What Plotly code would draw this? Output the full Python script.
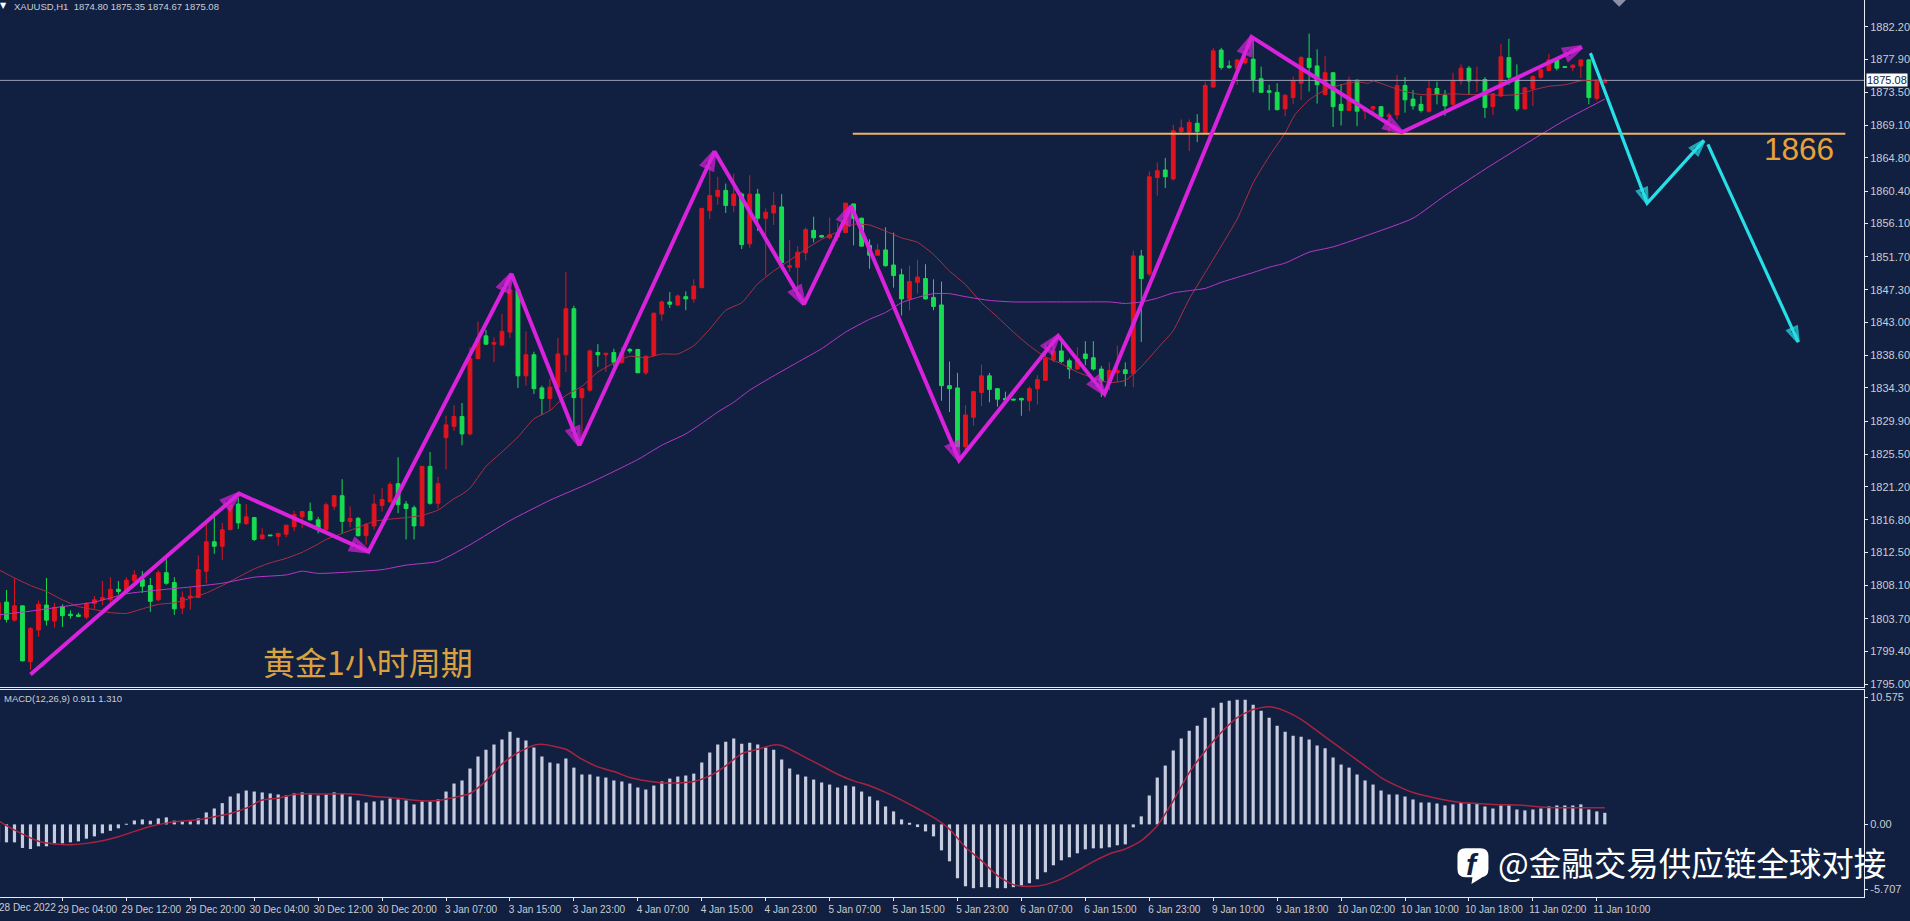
import plotly.graph_objects as go

W, H = 1910, 921
FIRST_BAR = -1
opens = [1803.6,
1805.9,1803.5,1805.4,1798.0,1802.2,1805.5,1803.4,1805.3,1804.3,1804.2,
1803.9,1805.7,1806.2,1806.2,1807.6,1807.3,1808.7,1808.9,1808.1,1806.2,
1809.8,1808.5,1805.1,1806.5,1806.5,1810.0,1813.9,1813.3,1815.5,1818.9,
1816.3,1817.1,1814.3,1814.8,1814.6,1814.9,1815.9,1817.2,1817.9,1816.8,
1815.5,1818.6,1820.0,1816.6,1817.0,1814.7,1816.0,1818.7,1819.2,1821.6,
1818.9,1818.4,1816.0,1823.9,1819.0,1827.7,1829.2,1830.5,1828.2,1838.2,
1841.2,1840.1,1840.0,1841.7,1847.3,1835.9,1838.7,1834.3,1832.9,1834.4,
1838.7,1844.8,1833.0,1834.0,1839.0,1838.7,1839.0,1837.7,1839.4,1839.4,
1836.3,1838.6,1844.1,1845.7,1845.3,1846.4,1846.1,1847.6,1857.8,1859.7,
1860.5,1858.5,1860.0,1853.4,1860.0,1856.8,1857.5,1858.3,1850.3,1850.3,
1852.2,1855.2,1854.5,1854.2,1854.3,1854.9,1858.7,1856.8,1853.2,1851.9,
1852.6,1850.6,1849.3,1846.1,1848.3,1848.8,1846.3,1845.3,1834.6,1834.3,
1826.5,1830.4,1833.7,1835.9,1834.2,1832.9,1832.8,1832.9,1832.6,1834.2,
1835.3,1838.0,1839.2,1837.9,1836.8,1838.8,1838.3,1836.8,1835.1,1836.3,
1836.7,1836.2,1851.8,1849.4,1862.2,1863.2,1862.0,1868.3,1868.2,1869.4,
1868.2,1874.2,1879.1,1877.0,1876.6,1877.4,1877.9,1875.3,1873.7,1873.5,
1871.3,1872.8,1874.7,1878.0,1877.0,1873.2,1876.1,1871.9,1871.1,1875.1,
1871.0,1871.3,1871.6,1870.3,1870.5,1874.4,1872.6,1871.9,1871.0,1874.0,
1873.1,1871.9,1875.0,1876.7,1875.0,1875.2,1871.6,1873.0,1878.1,1875.3,
1871.3,1874.0,1875.5,1876.4,1877.8,1876.9,1876.8,1877.0,1877.8,1872.7,
1874.80]
closes = [1805.8,
1803.6,1805.4,1798.1,1802.4,1805.6,1803.5,1805.2,1804.1,1804.1,1804.0,
1805.7,1806.2,1806.5,1807.6,1807.3,1808.8,1809.5,1808.0,1806.0,1809.8,
1808.4,1805.0,1806.5,1806.7,1810.2,1813.9,1813.3,1815.5,1818.8,1816.4,
1817.2,1814.2,1814.8,1814.7,1815.0,1816.1,1817.5,1817.9,1816.8,1815.7,
1818.8,1820.0,1816.6,1817.0,1814.7,1816.2,1818.9,1819.5,1821.5,1818.8,
1818.3,1816.0,1823.9,1819.0,1821.6,1829.4,1830.5,1828.2,1838.2,1840.9,
1840.1,1840.3,1841.8,1847.3,1835.9,1838.7,1834.2,1832.9,1834.4,1838.8,
1844.8,1833.0,1834.2,1839.2,1838.7,1838.9,1837.7,1839.0,1839.2,1836.3,
1838.5,1844.2,1845.7,1845.4,1846.5,1846.1,1847.8,1858.1,1859.8,1860.5,
1858.5,1860.0,1853.3,1860.0,1856.8,1857.6,1858.5,1850.9,1850.5,1852.3,
1855.3,1854.2,1854.3,1854.6,1854.7,1858.8,1856.8,1853.1,1851.9,1852.6,
1850.5,1849.2,1846.1,1848.4,1849.0,1846.1,1845.1,1834.6,1834.2,1826.5,
1830.7,1833.8,1835.9,1834.1,1832.8,1832.7,1832.7,1832.7,1834.2,1835.4,
1838.2,1839.2,1837.8,1836.8,1838.2,1838.2,1836.8,1835.2,1836.6,1836.6,
1836.2,1851.8,1848.8,1862.3,1863.1,1862.3,1868.4,1868.8,1869.5,1868.3,
1874.4,1879.0,1876.8,1876.8,1877.8,1878.0,1875.2,1873.5,1873.5,1871.2,
1873.1,1875.0,1878.1,1876.8,1874.5,1876.1,1871.6,1871.1,1875.1,1871.0,
1871.2,1871.6,1870.3,1870.5,1874.4,1872.5,1871.7,1871.1,1874.0,1873.2,
1871.7,1875.0,1876.7,1875.0,1875.1,1871.5,1873.3,1878.2,1875.5,1871.3,
1874.1,1875.6,1876.5,1877.8,1876.7,1876.8,1877.1,1877.8,1872.8,1875.1,
1875.08]
highs = [1806.0,
1807.5,1809.1,1805.4,1802.6,1806.1,1809.1,1805.8,1805.6,1804.8,1804.5,
1805.9,1806.7,1808.7,1809.2,1808.7,1809.2,1810.1,1810.0,1809.1,1810.1,
1811.6,1809.2,1807.3,1807.8,1812.1,1816.4,1817.9,1816.4,1819.2,1819.7,
1818.9,1817.2,1815.7,1814.8,1815.0,1816.1,1818.0,1818.0,1819.1,1817.2,
1819.1,1820.1,1822.2,1818.6,1817.2,1816.4,1820.2,1821.0,1821.8,1825.1,
1819.3,1818.7,1823.9,1825.8,1822.5,1830.6,1832.0,1832.3,1839.7,1843.1,
1842.0,1841.0,1844.1,1849.4,1847.3,1841.8,1839.1,1834.6,1835.5,1840.9,
1849.7,1845.2,1834.2,1839.4,1840.1,1838.9,1839.5,1839.7,1839.6,1839.4,
1838.6,1844.3,1845.9,1847.0,1846.7,1847.1,1848.7,1858.2,1863.9,1862.3,
1861.4,1862.7,1860.2,1862.5,1860.7,1858.1,1860.3,1860.0,1853.9,1853.1,
1855.6,1857.0,1854.6,1856.9,1856.2,1858.9,1858.7,1856.9,1854.0,1853.4,
1855.6,1854.9,1850.1,1850.5,1851.3,1850.7,1848.7,1848.4,1837.8,1836.3,
1832.0,1833.9,1837.4,1836.3,1834.3,1833.8,1832.9,1833.0,1834.5,1836.0,
1840.1,1840.3,1840.4,1838.2,1839.7,1840.5,1840.5,1837.2,1837.7,1839.9,
1837.7,1852.5,1852.6,1863.0,1864.2,1864.8,1869.2,1869.9,1869.9,1870.6,
1874.9,1879.4,1879.4,1877.7,1877.9,1878.6,1880.5,1876.9,1874.5,1874.7,
1873.3,1875.6,1878.3,1881.3,1879.2,1878.3,1876.1,1874.6,1875.6,1875.2,
1871.4,1871.7,1871.6,1870.8,1875.8,1875.5,1873.8,1873.0,1875.1,1874.9,
1873.8,1876.1,1877.2,1877.0,1876.9,1875.5,1873.4,1879.9,1880.6,1877.2,
1874.1,1875.7,1876.6,1878.6,1877.9,1876.9,1877.2,1877.8,1877.9,1875.2,
1875.35]
lows = [1802.9,
1803.2,1803.3,1798.1,1796.9,1801.3,1802.8,1802.5,1802.6,1803.7,1803.9,
1803.6,1805.0,1805.5,1805.8,1806.9,1807.1,1808.2,1807.1,1804.6,1806.0,
1808.2,1804.2,1804.3,1804.9,1806.5,1808.4,1812.3,1811.5,1815.5,1815.6,
1816.1,1814.0,1814.2,1814.7,1813.4,1814.5,1815.3,1815.7,1816.7,1815.0,
1815.3,1818.1,1815.0,1815.8,1814.6,1813.5,1815.5,1817.9,1819.0,1817.7,
1814.2,1814.2,1816.0,1818.8,1818.3,1823.5,1828.6,1826.7,1828.0,1838.2,
1840.0,1837.7,1839.8,1840.9,1834.3,1834.6,1833.5,1830.7,1831.3,1834.2,
1836.4,1828.0,1827.8,1833.8,1837.1,1836.4,1837.2,1837.5,1838.9,1836.3,
1836.0,1838.4,1843.2,1844.9,1845.1,1844.6,1845.6,1847.5,1856.7,1858.6,
1857.5,1857.6,1852.7,1852.9,1855.1,1849.2,1855.9,1850.0,1849.7,1846.9,
1851.2,1853.6,1854.2,1854.0,1853.8,1854.8,1853.2,1853.1,1850.1,1851.8,
1850.4,1847.6,1843.9,1844.6,1846.8,1846.0,1844.6,1832.6,1831.1,1826.5,
1826.0,1829.3,1831.9,1832.4,1831.8,1832.7,1832.7,1830.6,1831.2,1832.1,
1835.2,1837.7,1837.6,1835.5,1836.7,1837.3,1836.6,1833.1,1834.0,1835.1,
1834.5,1834.4,1840.4,1849.1,1859.8,1860.8,1861.8,1868.1,1865.7,1866.9,
1868.2,1874.1,1876.5,1876.6,1874.5,1877.2,1873.5,1873.4,1871.1,1871.1,
1870.3,1871.9,1872.5,1873.6,1872.0,1873.1,1868.9,1869.1,1871.1,1869.0,
1869.9,1870.8,1870.3,1867.9,1869.9,1870.8,1871.2,1870.8,1870.8,1871.9,
1870.4,1871.7,1874.5,1873.2,1873.5,1870.1,1870.5,1872.9,1874.5,1871.0,
1871.2,1871.7,1875.3,1876.3,1876.4,1876.8,1876.3,1875.4,1871.9,1872.4,
1874.67]
macd_hist = [-1.40,
-1.41,-1.41,-1.85,-1.93,-1.72,-1.72,-1.49,-1.49,-1.41,-1.33,
-1.12,-0.94,-0.70,-0.50,-0.31,0.05,0.31,0.39,0.29,0.47,
0.55,0.29,0.23,0.23,0.47,0.94,1.25,1.67,2.19,2.43,
2.66,2.58,2.51,2.43,2.35,2.27,2.43,2.51,2.35,2.27,
2.35,2.51,2.43,2.19,1.88,1.72,1.80,1.88,2.04,1.96,
1.88,1.57,1.80,1.80,1.96,2.58,3.21,3.45,4.39,5.33,
5.87,6.27,6.66,7.28,6.81,6.58,6.03,5.33,4.86,4.78,
5.17,4.46,3.92,3.92,3.76,3.68,3.45,3.37,3.21,2.90,
2.74,3.05,3.37,3.60,3.76,3.84,3.99,4.86,5.64,6.27,
6.50,6.74,6.34,6.42,6.27,6.03,5.87,5.09,4.39,3.92,
3.76,3.52,3.29,3.13,2.90,3.05,2.98,2.58,2.19,1.88,
1.41,1.02,0.39,0.08,-0.21,-0.55,-0.94,-2.04,-2.90,-4.23,
-4.86,-5.01,-4.93,-4.93,-5.01,-5.01,-4.93,-4.80,-4.62,-4.31,
-3.76,-3.21,-2.82,-2.58,-2.27,-1.96,-1.88,-1.88,-1.80,-1.64,
-1.57,-0.23,0.63,2.27,3.68,4.62,5.80,6.74,7.36,7.75,
8.38,9.16,9.56,9.71,9.79,9.79,9.40,8.93,8.38,7.75,
7.28,6.97,6.89,6.66,6.19,5.98,5.25,4.70,4.46,3.92,
3.45,3.13,2.66,2.35,2.35,2.19,1.96,1.72,1.72,1.64,
1.49,1.57,1.72,1.64,1.64,1.41,1.25,1.49,1.49,1.17,
1.10,1.17,1.25,1.41,1.49,1.49,1.49,1.57,1.17,1.02,
0.911]
signal_bar = [-1,0,2,4,6,8,10,12,14,16,18,20,22,24,26,28,30,32,34,36,38,40,42,44,46,48,50,52,54,56,58,60,62,64,66,67,70,72,74,76,78,80,82,84,86,88,90,92,94,96,97,100,102,104,106,108,110,112,114,116,118,120,122,124,126,128,130,132,134,136,138,140,142,144,146,148,150,152,154,156,158,160,162,164,166,168,170,172,174,176,178,180,182,184,186,188,190,192,194,196,198,200]
signal_val = [0.30,-0.10,-0.76,-1.33,-1.54,-1.59,-1.49,-1.28,-0.97,-0.55,-0.16,0.10,0.26,0.37,0.60,0.86,1.28,1.91,2.06,2.35,2.40,2.38,2.40,2.35,2.19,2.11,1.98,1.85,1.88,2.11,2.43,3.42,4.73,5.64,6.21,6.29,5.90,5.12,4.52,4.15,3.68,3.42,3.26,3.26,3.37,3.81,4.60,5.56,5.90,6.24,6.19,5.25,4.60,3.94,3.42,3.03,2.51,1.91,1.25,0.55,-0.37,-1.80,-2.85,-4.02,-4.73,-4.88,-4.73,-4.28,-3.63,-2.92,-2.32,-1.93,-1.28,-0.10,1.85,4.07,5.77,7.21,8.38,9.03,9.24,8.90,8.25,7.34,6.42,5.51,4.60,3.68,3.03,2.51,2.19,1.91,1.72,1.64,1.57,1.54,1.49,1.36,1.31,1.31,1.31,1.31]
ma_fast_bar = [-1,1,3,5,7,9,11,13,15,17,19,21,23,25,27,29,31,33,35,37,39,40,42,44,46,48,50,52,54,56,57,58,60,62,64,66,68,70,72,74,76,78,80,82,84,86,88,90,92,94,96,98,100,102,104,106,108,110,112,114,116,118,120,122,124,126,128,130,132,134,136,138,140,142,144,146,148,150,152,154,156,157,158.3,160,161.2,163,165,167,169,170.4,171,173,175,177,179,181,183,185,187,189,191,193,195,197,199,200]
ma_fast_val = [1810.2,1809.1,1808.1,1807.3,1806.2,1805.3,1804.9,1804.5,1804.4,1805.0,1805.6,1805.8,1806.4,1807.1,1808.1,1809.2,1810.3,1811.1,1811.7,1812.5,1813.6,1814.2,1815.0,1815.8,1816.6,1816.9,1817.1,1817.4,1818.1,1819.6,1820.2,1821.0,1823.9,1825.8,1827.8,1830.2,1831.3,1833.3,1834.5,1836.4,1837.6,1838.5,1838.3,1838.8,1838.8,1839.9,1842.1,1844.6,1845.6,1848.1,1849.8,1851.2,1852.7,1854.0,1855.0,1856.0,1855.9,1855.1,1854.2,1853.6,1852.0,1849.8,1848.0,1845.6,1843.7,1841.7,1839.9,1838.4,1837.5,1836.4,1835.6,1835.0,1835.3,1837.1,1839.5,1841.9,1846.1,1849.6,1853.1,1856.7,1861.5,1863.3,1865.5,1868.1,1870.5,1872.5,1873.8,1874.5,1874.9,1874.7,1875.0,1874.3,1873.6,1873.2,1873.2,1873.3,1873.2,1873.2,1873.1,1873.2,1873.8,1874.3,1874.5,1875.0,1875.1,1875.0]
ma_slow_bar = [-1,3,7,11,15,19,23,27,31,35,37,39,47,50,54,58,63,68,73,79,82,85,87,89,91,93,96,99,102,105,108,110,112,114,116,118,120,123,126,130,134,138,140,142,144,146,148,150,152,154,156,158,160,163,166,171,176,180,185,190,195,200]
ma_slow_val = [1804.2,1804.7,1805.3,1805.9,1807.0,1807.5,1807.9,1808.4,1809.2,1809.5,1810.0,1809.7,1810.2,1810.8,1811.3,1813.5,1816.7,1819.4,1821.7,1824.8,1826.7,1828.2,1829.6,1831.1,1832.4,1834.0,1835.9,1837.7,1839.5,1841.7,1843.4,1844.3,1845.6,1846.3,1846.8,1846.8,1846.4,1845.9,1845.7,1845.7,1845.7,1845.7,1845.5,1845.7,1846.2,1846.9,1847.2,1847.5,1848.3,1848.95,1849.6,1850.3,1850.85,1852.3,1853.0,1854.8,1856.8,1859.8,1863.3,1866.6,1869.8,1872.6]
zigzag_bar = [3.0,29.1,45.3,63.2,71.7,88.6,99.8,105.7,119.2,131.6,137.4,155.8,174.6,197.1]
zigzag_val = [1796.3,1820.3,1812.6,1849.4,1826.7,1865.65,1845.4,1858.4,1824.7,1841.2,1833.5,1880.85,1868.2,1879.5]
forecast_a_bar = [198.2,205.3,212.4]
forecast_a_val = [1878.7,1858.8,1867.1]
forecast_b_bar = [212.9,224.2]
forecast_b_val = [1866.6,1840.4]
level_bar = [105.9,230.1]
level_val = [1868.0,1868.0]
current_price = 1875.08
price_ticks = [1882.20,1877.90,1873.50,1869.10,1864.80,1860.40,1856.10,1851.70,1847.30,1843.00,1838.60,1834.30,1829.90,1825.50,1821.20,1816.80,1812.50,1808.10,1803.70,1799.40,1795.00]
time_tick_bars = [7,15,23,31,39,47,55,63,71,79,87,95,103,111,119,127,135,143,151,159,167,175,183,191,199]
time_tick_labels = ["29 Dec 04:00","29 Dec 12:00","29 Dec 20:00","30 Dec 04:00","30 Dec 12:00","30 Dec 20:00","3 Jan 07:00","3 Jan 15:00","3 Jan 23:00","4 Jan 07:00","4 Jan 15:00","4 Jan 23:00","5 Jan 07:00","5 Jan 15:00","5 Jan 23:00","6 Jan 07:00","6 Jan 15:00","6 Jan 23:00","9 Jan 10:00","9 Jan 18:00","10 Jan 02:00","10 Jan 10:00","10 Jan 18:00","11 Jan 02:00","11 Jan 10:00"]

for series in (closes, highs, lows, macd_hist):
    assert len(series) == len(opens), len(series)
assert len(signal_bar) == len(signal_val)
assert len(ma_fast_bar) == len(ma_fast_val)
assert len(ma_slow_bar) == len(ma_slow_val)

bars = list(range(FIRST_BAR, FIRST_BAR + len(opens)))

BG = "#111f40"
RED = "#e0141e"
GREEN = "#18dc50"
MAGENTA = "#d922dc"
CYAN = "#27dfe6"
AXIS = "#e8ebf2"
LABEL = "#c9cdd6"
FONT = "Liberation Sans Narrow, Liberation Sans, Arial, sans-serif"
CJK = "Noto Sans CJK SC, sans-serif"

PLOT_R = 1866
PRICE_RANGE = [1794.67, 1885.74]
MACD_RANGE = [-5.707, 10.575]
X_RANGE = [-0.8125, 232.44]

def px(x):
    return x / W
def py(y):
    return 1 - y / H

fig = go.Figure()
fig.add_trace(go.Candlestick(
    x=bars, open=opens, high=highs, low=lows, close=closes,
    increasing=dict(line=dict(color=RED, width=1), fillcolor=RED),
    decreasing=dict(line=dict(color=GREEN, width=1), fillcolor=GREEN),
    whiskerwidth=0, xaxis="x", yaxis="y", showlegend=False, hoverinfo="skip"))
fig.add_trace(go.Scatter(x=[X_RANGE[0], X_RANGE[1]], y=[current_price, current_price], mode="lines",
    line=dict(color="#9aa0b4", width=1), xaxis="x", yaxis="y", showlegend=False))
fig.add_trace(go.Scatter(x=ma_fast_bar, y=ma_fast_val, mode="lines", line=dict(color="#ad3044", width=1, shape="spline", smoothing=0.5),
    xaxis="x", yaxis="y", showlegend=False))
fig.add_trace(go.Scatter(x=ma_slow_bar, y=ma_slow_val, mode="lines", line=dict(color="#b838c8", width=1, shape="spline", smoothing=0.5),
    xaxis="x", yaxis="y", showlegend=False))
fig.add_trace(go.Scatter(x=level_bar, y=level_val, mode="lines", line=dict(color="#f0b264", width=2),
    xaxis="x", yaxis="y", showlegend=False))

def arrows(xs, ys, color, width, size):
    fig.add_trace(go.Scatter(
        x=xs, y=ys, mode="lines+markers",
        line=dict(color=color, width=width),
        marker=dict(symbol="arrow-open", angleref="previous",
                    size=[0] + [size] * (len(xs) - 1), color=color,
                    line=dict(color=color, width=width)),
        xaxis="x", yaxis="y", showlegend=False, cliponaxis=False))

arrows(zigzag_bar, zigzag_val, MAGENTA, 4, 18)
arrows(forecast_a_bar, forecast_a_val, CYAN, 3.2, 15)
arrows(forecast_b_bar, forecast_b_val, CYAN, 3.2, 15)

fig.add_trace(go.Scatter(x=[201.8], y=[1885.7], mode="markers",
    marker=dict(symbol="diamond", size=10, color="#8b90a6"), xaxis="x", yaxis="y", showlegend=False))

fig.add_trace(go.Bar(x=bars, y=macd_hist, width=0.4, marker=dict(color="#c6ccdf", line=dict(width=0)),
    xaxis="x2", yaxis="y2", showlegend=False))
fig.add_trace(go.Scatter(x=signal_bar, y=signal_val, mode="lines",
    line=dict(color="#a8233f", width=1.5, shape="spline", smoothing=0.6), xaxis="x2", yaxis="y2", showlegend=False))

anns = []
def note(text, x, y, size, color, family=FONT, anchor="center", **kw):
    anns.append(dict(text=text, x=px(x), y=py(y), xref="paper", yref="paper", showarrow=False,
                     xanchor=anchor, yanchor="middle", font=dict(size=size, color=color, family=family), **kw))

note("▼", 4, 6, 8, "#ffffff", family="DejaVu Sans")
note("XAUUSD,H1&nbsp;&nbsp;1874.80 1875.35 1874.67 1875.08", 12, 7, 9.5, LABEL, anchor="left")
note("MACD(12,26,9) 0.911 1.310", 2, 701, 9.5, LABEL, anchor="left")
note("28 Dec 2022", -3, 910, 10, LABEL, anchor="left")
note("黄金1小时周期", 368, 663, 32, "#d9a23f", family=CJK)
note("1866", 1801, 149, 31.5, "#e7a23a", family="Liberation Sans, Arial, sans-serif")
note("@金融交易供应链全球对接", 1694, 864, 32.5, "#ffffff", family=CJK)
note("<b><i>f</i></b>", 1474, 867, 30, BG, family="Liberation Sans, Arial, sans-serif")
anns.append(dict(text="1875.08", x=px(1868), y=current_price, xref="paper", yref="y", showarrow=False,
                 xanchor="left", yanchor="middle", bgcolor="#ffffff", borderpad=0,
                 font=dict(size=11, color="#111f40", family=FONT)))

# Rounded badge behind the watermark glyph
x0, x1, y0, y1, r = 1459, 1490, 851, 880, 8
icon = (f"M {px(x0+r)} {py(y0)} L {px(x1-r)} {py(y0)} Q {px(x1)} {py(y0)} {px(x1)} {py(y0+r)} "
        f"L {px(x1)} {py(y1-r)} Q {px(x1)} {py(y1)} {px(x1-r)} {py(y1)} L {px(1484)} {py(y1)} L {px(1473)} {py(887)} "
        f"L {px(1474)} {py(y1)} L {px(x0+r)} {py(y1)} Q {px(x0)} {py(y1)} {px(x0)} {py(y1-r)} "
        f"L {px(x0)} {py(y0+r)} Q {px(x0)} {py(y0)} {px(x0+r)} {py(y0)} Z")

tickfont = dict(size=11, color=LABEL, family=FONT)
fig.update_layout(
    width=W, height=H, margin=dict(l=0, r=0, t=0, b=0), autosize=False,
    paper_bgcolor=BG, plot_bgcolor=BG, showlegend=False, barmode="overlay", boxgap=0.32,
    font=dict(family=FONT, color=LABEL),
    annotations=anns,
    shapes=[dict(type="path", path=icon, xref="paper", yref="paper", fillcolor="#ffffff", line=dict(width=0), layer="below")],
    xaxis=dict(domain=[0, px(PLOT_R)], range=X_RANGE, anchor="y", showgrid=False, zeroline=False,
               showticklabels=False, ticks="", rangeslider=dict(visible=False),
               showline=True, linecolor=AXIS, linewidth=1),
    yaxis=dict(domain=[py(689), 1], range=PRICE_RANGE, anchor="x", side="right", showgrid=False, zeroline=False,
               tickvals=price_ticks, ticktext=[f"{v:.2f}" for v in price_ticks], ticks="outside", ticklen=3,
               tickcolor=AXIS, tickfont=tickfont, showline=True, linecolor=AXIS, linewidth=1),
    xaxis2=dict(domain=[0, px(PLOT_R)], range=X_RANGE, anchor="y2", showgrid=False, zeroline=False,
                tickvals=time_tick_bars, ticktext=time_tick_labels, ticks="outside", ticklen=3, tickcolor=AXIS,
                tickfont=dict(size=10, color=LABEL, family=FONT), ticklabelshift=25, tickangle=0,
                showline=True, linecolor=AXIS, linewidth=1, mirror=True),
    yaxis2=dict(domain=[py(900), py(692)], range=MACD_RANGE, anchor="x2", side="right", showgrid=False, zeroline=False,
                tickvals=[10.0, 0, -5.1], ticktext=["10.575", "0.00", "-5.707"], ticks="outside", ticklen=3,
                tickcolor=AXIS, tickfont=tickfont, showline=True, linecolor=AXIS, linewidth=1),
)
fig.write_html("out.html", config=dict(displayModeBar=False),
               post_script="document.body.style.margin='0';document.body.style.overflow='hidden';")
